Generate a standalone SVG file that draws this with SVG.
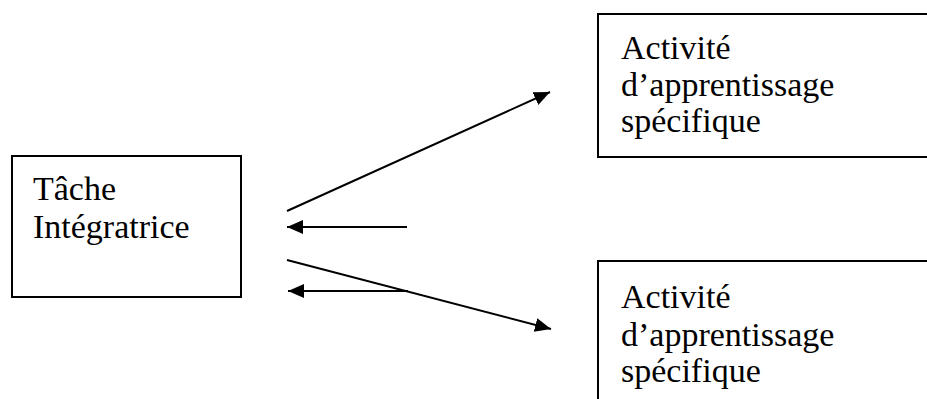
<svg xmlns="http://www.w3.org/2000/svg" width="927" height="399" viewBox="0 0 927 399">
<style>
.box{fill:none;stroke:#000;stroke-width:2}
.t{font-family:"Liberation Serif","Times New Roman",serif;font-size:34px;fill:#000}
.c{stroke:#000;stroke-width:2;fill:none;marker-end:url(#ah)}
</style>
<defs>
<marker id="ah" markerUnits="userSpaceOnUse" markerWidth="18" markerHeight="16" refX="16" refY="7" orient="auto">
<path d="M0,0 L16,7 L0,14 z" fill="#000"/>
</marker>
</defs>
<rect width="927" height="399" fill="#fff"/>
<g id="tache">
<rect class="box" x="12" y="156" width="229" height="141"/>
<text class="t" x="33" y="200">Tâche</text>
<text class="t" x="33" y="238">Intégratrice</text>
</g>
<g id="activite1">
<path class="box" d="M930,14 L598,14 L598,157 L930,157"/>
<text class="t" x="621" y="59">Activité</text>
<text class="t" x="621" y="96">d’apprentissage</text>
<text class="t" x="621" y="132">spécifique</text>
</g>
<g id="activite2">
<path class="box" d="M598,402 L598,261 L930,261"/>
<text class="t" x="621" y="308">Activité</text>
<text class="t" x="621" y="346">d’apprentissage</text>
<text class="t" x="621" y="382">spécifique</text>
</g>
<g id="connectors">
<line class="c" x1="287" y1="211" x2="550" y2="92"/>
<line class="c" x1="407" y1="227" x2="287" y2="227"/>
<line class="c" x1="287" y1="260" x2="551" y2="329"/>
<line class="c" x1="408" y1="291" x2="288" y2="291"/>
</g>
</svg>
